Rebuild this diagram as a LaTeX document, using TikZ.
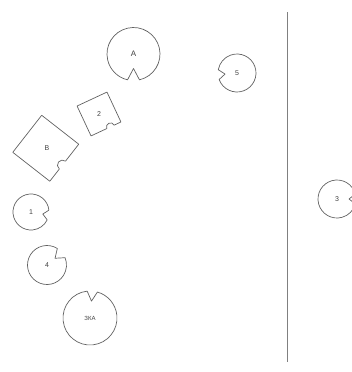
\documentclass[tikz,border=0pt]{standalone}
\usepackage{fontspec}
\setmainfont{Liberation Sans}
\tikzset{
  shp/.style={draw=black!62, line width=0.7pt, line join=round},
  lbl/.style={text=black!75, inner sep=0pt, font=\fontsize{7}{8}\selectfont},
  biglbl/.style={lbl, font=\fontsize{8}{9}\selectfont},
  smalllbl/.style={lbl, font=\fontsize{6}{7}\selectfont},
  divider/.style={draw=black!50, line width=1.3pt}
}
% name, x, y, radius, notch direction, notch half angle, notch depth, label, label style
\newcommand{\notchcirc}[9]{%
  \coordinate (#1) at (#2,#3);
  \draw[shp] ([shift={(#5+#6:#4)}]#1) arc[start angle={#5+#6}, end angle={#5+360-#6}, radius=#4]
     -- ([shift={(#5:#4-#7)}]#1) -- cycle;
  \node[#9] (#1-t) at (#1) {#8};}
\begin{document}
\begin{tikzpicture}[x=1pt,y=1pt]
\path[use as bounding box] (0,0) rectangle (352,-372);
\clip (0,0) rectangle (352,-372);

% round tables
\notchcirc{tA}{133.5}{-54}{26.5}{270}{13}{12}{A}{biglbl}
\notchcirc{t5}{237}{-73}{19}{185}{15}{7}{5}{lbl}
\notchcirc{t1}{31}{-212}{18}{-10}{16}{6}{1}{lbl}
\notchcirc{t4}{47}{-265}{19.5}{40}{18}{9}{4}{lbl}
\notchcirc{tZ}{90}{-318}{27}{85}{11}{10}{ЗКА}{smalllbl}
\notchcirc{t3}{337}{-199}{19}{0}{15}{7}{3}{lbl}

% square table 2
\coordinate (t2) at (99,-114);
\begin{scope}[shift={(t2)}, rotate=25]
  \draw[shp] (-16.5,16.5) -- (16.5,16.5) -- (16.5,-16.5) -- (9,-16.5)
     arc[start angle=0, end angle=180, radius=4] -- (-16.5,-16.5) -- cycle;
\end{scope}
\node[lbl] (t2-t) at (t2) {2};

% square table B
\coordinate (tB) at (45.75,-148.25);
\begin{scope}[shift={(tB)}, rotate=-38]
  \draw[shp] (-23.5,23.5) -- (23.5,23.5) -- (23.5,2)
     arc[start angle=90, end angle=270, radius=5] -- (23.5,-23.5) -- (-23.5,-23.5) -- cycle;
\end{scope}
\node[lbl] (tB-t) at (47,-148) {B};

% dividing line
\coordinate (ltop) at (287.5,-12);
\coordinate (lbot) at (287.5,-362);
\draw[divider] (ltop) -- (lbot);
\end{tikzpicture}
\end{document}
